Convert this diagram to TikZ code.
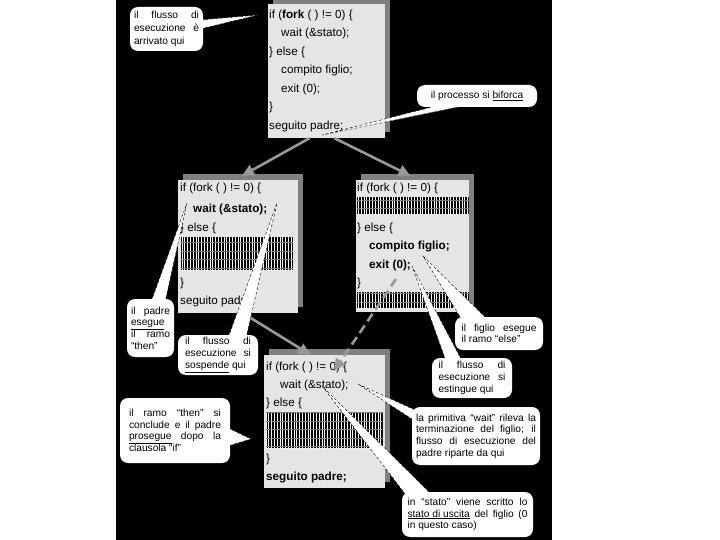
\documentclass[tikz,border=0pt]{standalone}
\usepackage{fontspec}
\setmainfont{Liberation Sans}
\usetikzlibrary{
		arrows.meta,
		patterns.meta,
		shadows
	}
\tikzset{
		>=Triangle
	}
\newcommand{\codefont}{\fontsize{11.7}{18.6}\selectfont}
\newcommand{\notefont}{\fontsize{10.2}{11.7}\selectfont}
\hyphenpenalty=10000

\begin{document}
\begin{tikzpicture}[x=1pt, y=-1pt,
    box/.style={fill=black!10, inner sep=0pt,
        drop shadow={shadow xshift=5pt, shadow yshift=6pt, fill=gray, opacity=1}},
    code/.style={anchor=base west, inner sep=0pt, font=\codefont},
    garble/.style={fill=black,
        postaction={pattern={Lines[angle=90, distance=2.8pt, line width=1pt]}, pattern color=white},
        postaction={pattern={Lines[angle=0, distance=8.5pt, line width=0.8pt]}, pattern color=gray}},
    flow/.style={draw=gray!80, line width=2.6pt, -{Triangle[length=12pt, width=11pt]}},
    note/.style={fill=white, rounded corners=8pt, font=\notefont, align=justify, inner ysep=0pt},
    pointer/.style={fill=white, draw=black, densely dashed, line width=0.4pt}]

          \useasboundingbox (0,0) rectangle (720,540);
          \fill[white] (0,0) rectangle (720,540);
          \fill[black] (116,0) rectangle (552,540);

          % the four copies of the program
          \node[box, minimum width=117pt, minimum height=134pt] (topbox) at (326.5,71) {};
          \node[box, minimum width=120pt, minimum height=133pt] (leftbox) at (238,246.5) {};
          \node[box, minimum width=113pt, minimum height=132pt] (rightbox) at (412.5,246) {};
          \node[box, minimum width=121pt, minimum height=133pt] (botbox) at (324.5,421.5) {};

          \node[code] (t1) at (269,18.5) {if (\textbf{fork} ( ) != 0) \{};
          \node[code] (t2) at (281,37) {wait (\&stato);};
          \node[code] (t3) at (269,55.5) {\} else \{};
          \node[code] (t4) at (281,74) {compito figlio;};
          \node[code] (t5) at (281,92.5) {exit (0);};
          \node[code] (t6) at (269,111) {\}};
          \node[code] (t7) at (269,129.5) {seguito padre;};

          \node[code] (l1) at (180,191.5) {if (fork ( ) != 0) \{};
          \node[code] (l2) at (193,212.5) {\textbf{wait (\&stato);}};
          \node[code] (l3) at (180,231.5) {\} else \{};
          \fill[garble] (181,237) rectangle (293,270);
          \node[code] (l4) at (180,286.5) {\}};
          \node[code] (l5) at (180,304.5) {seguito padre;};

          \node[code] (r1) at (357,191.5) {if (fork ( ) != 0) \{};
          \fill[garble] (357,197) rectangle (469,214);
          \node[code] (r2) at (357,231.5) {\} else \{};
          \node[code] (r3) at (369,249.5) {\textbf{compito figlio;}};
          \node[code] (r4) at (369,268.5) {\textbf{exit (0);}};
          \node[code] (r5) at (357,286.5) {\}};
          \fill[garble] (357,292) rectangle (469,308);

          \node[code] (b1) at (266,370.5) {if (fork ( ) != 0) \{};
          \node[code] (b2) at (280,388) {wait (\&stato);};
          \node[code] (b3) at (266,406) {\} else \{};
          \fill[garble] (266,412) rectangle (383,448);
          \node[code] (b4) at (266,462.5) {\}};
          \node[code] (b5) at (266,480.5) {\textbf{seguito padre;}};

          % flow of execution
          \coordinate (childexit) at (396,279);
          \coordinate (parentwait) at (334,371);
          \draw[flow] ([xshift=-17pt]topbox.south) -- ([xshift=4pt,yshift=4pt]leftbox.north);
          \draw[flow] ([xshift=8pt]topbox.south) -- ([xshift=-2pt,yshift=4pt]rightbox.north);
          \draw[flow] ([xshift=5pt]leftbox.south) -- ([xshift=-14pt]botbox.north);
          \draw[flow, dash pattern=on 9pt off 5pt] (childexit) -- (parentwait);

          % callouts
          \coordinate (arrived) at (258,15);
          \coordinate (forks) at (322,135);
          \coordinate (thenbr) at (187,203);
          \coordinate (suspend) at (277,203);
          \coordinate (elsebr) at (423,256);
          \coordinate (dies) at (412,266);
          \coordinate (resumes) at (358,384);
          \coordinate (status) at (322,386);
          \coordinate (after) at (251,439);

          \path[pointer] (200,20) -- (arrived) -- (200,29);
          \path[pointer] (440,105) -- (forks) -- (468,105);
          \path[pointer] (151,302) -- (thenbr) -- (165,302);
          \path[pointer] (228,338) -- (suspend) -- (246,338);
          \path[pointer] (462,320) -- (elsebr) -- (488,320);
          \path[pointer] (446,361) -- (dies) -- (462,361);
          \path[pointer] (415,410) -- (resumes) -- (415,421);
          \path[pointer] (406,495) -- (status) -- (432,495);
          \path[pointer] (228,428) -- (after) -- (228,446);

          \node[note, text width=65pt, inner xsep=4pt, minimum height=44pt,
                font=\fontsize{10.2}{13}\selectfont] (n1) at (166.5,29)
                {il flusso di\linebreak esecuzione è\linebreak arrivato qui};
          \node[note, align=center, minimum width=120pt, minimum height=22pt] (n2) at (477,96)
                {il processo si \underline{biforca}};
          \node[note, text width=39pt, inner xsep=4pt, minimum height=58pt] (n3) at (150.5,328)
                {il padre\linebreak \underline{esegue}\linebreak il ramo\linebreak “then”};
          \node[note, text width=66pt, inner xsep=7pt, minimum height=40pt] (n4) at (218,355)
                {il flusso di\linebreak esecuzione si\linebreak \underline{sospende} qui};
          \node[note, text width=75pt, inner xsep=6.5pt, minimum height=33pt] (n5) at (499,333.5)
                {il figlio esegue\linebreak il ramo “else”};
          \node[note, text width=67pt, inner xsep=6.5pt, minimum height=40pt] (n6) at (472,378)
                {il flusso di\linebreak esecuzione si\linebreak estingue qui};
          \node[note, text width=120pt, inner xsep=4pt, minimum height=58pt] (n7) at (476,436)
                {la primitiva “wait” rileva la\linebreak terminazione del figlio; il\linebreak
                 flusso di esecuzione del\linebreak padre riparte da qui};
          \node[note, text width=120pt, inner xsep=5.5pt, minimum height=45pt] (n8) at (467.5,514.5)
                {in “stato” viene scritto lo\linebreak \underline{stato di uscita} del figlio (0\linebreak
                 in questo caso)};
          \node[note, text width=92pt, inner xsep=9pt, minimum height=65pt] (n9) at (175,430.5)
                {il ramo “then” si\linebreak conclude e il padre\linebreak
                 \underline{prosegue} dopo la\linebreak clausola “if”};

\end{tikzpicture}
\end{document}
